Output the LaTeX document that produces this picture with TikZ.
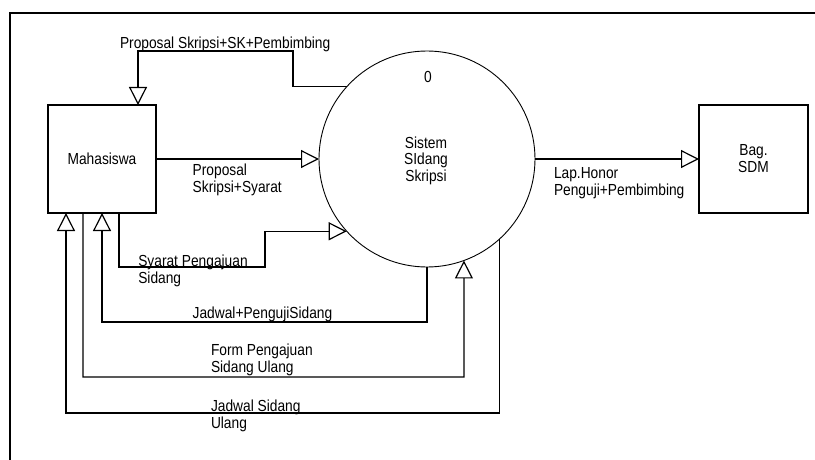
\documentclass[tikz,border=0pt]{standalone}
\usepackage{fontspec}
\setmainfont{Liberation Sans}[FakeStretch=0.86]
\usetikzlibrary{arrows.meta}
\begin{document}
\begin{tikzpicture}[x=1pt,y=-1pt,
  every node/.style={font=\fontsize{16}{17}\selectfont, inner sep=0pt, outer sep=0pt},
  entity/.style={draw, line width=1.2pt, minimum width=108pt, minimum height=108pt, align=center},
  proc/.style={draw, circle, line width=0.9pt, minimum size=216pt, inner sep=0pt, outer sep=0pt},
  flow/.style={line width=1.2pt, -{Triangle[open, length=18pt, width=18pt, line width=1.2pt]}},
  lbl/.style={anchor=base west, align=left}]
\useasboundingbox (0,0) rectangle (815,460);
\fill[white] (0,0) rectangle (815,460);
\draw[line width=2.2pt] (10,470) -- (10,13) -- (825,13);

\node[entity] (mah) at (102,159) {Mahasiswa};
\node[entity, minimum width=109pt] (bag) at (753.5,159) {Bag.\\SDM};
\node[proc] (sys) at (427,159) {};
\node (zero) at (428,83) [anchor=base] {0};
\node (systxt) at (426,182) [anchor=base, align=center] {Sistem\\SIdang\\Skripsi};

\coordinate (kTop) at (293,51);
\coordinate (kSy) at (265,267);
\coordinate (kJP) at (102,322);
\coordinate (kF) at (464,377);
\coordinate (kJU) at (66,413);

\draw[flow] (sys.138.2) -| (kTop) -| ([xshift=36pt]mah.north);
\draw[flow] (mah.east) -- (sys.west);
\draw[flow] (sys.east) -- (bag.west);
\draw[flow] ([xshift=17pt]mah.south) |- (kSy) |- (sys.222.5);
\draw[flow] (sys.south) |- (kJP) -- (mah.south);
\draw[flow] ([xshift=-19pt]mah.south) |- (kF) -- (sys.290);
\draw[flow] (sys.312.5) |- (kJU) -- ([xshift=-36pt]mah.south);

\node[lbl] (l1) at (120,48.3) {Proposal Skripsi+SK+Pembimbing};
\node[lbl] (l2) at (192.7,192) {Proposal\\Skripsi+Syarat};
\node[lbl] (l3) at (554,195) {Lap.Honor\\Penguji+Pembimbing};
\node[lbl] (l4) at (138.3,283) {Syarat Pengajuan\\Sidang};
\node[lbl] (l5) at (192.7,318.3) {Jadwal+PengujiSidang};
\node[lbl] (l6) at (211,372) {Form Pengajuan\\Sidang Ulang};
\node[lbl] (l7) at (211,428) {Jadwal Sidang\\Ulang};
\end{tikzpicture}
\end{document}
